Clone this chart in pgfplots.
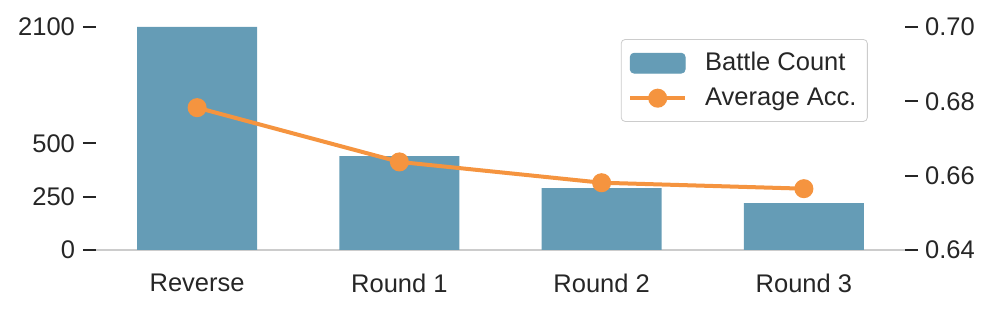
\documentclass[border=0pt]{standalone}
\usepackage{pgfplots}
\pgfplotsset{compat=1.18}
\usepackage{fontspec}
\setmainfont{Liberation Sans}
\definecolor{barblue}{HTML}{659CB6}
\definecolor{accorange}{HTML}{F5943F}
\definecolor{spinegray}{HTML}{CCCCCC}
\definecolor{txt}{HTML}{262626}
\begin{document}
\begin{tikzpicture}
\pgfplotsset{
  every axis/.append style={
    width=404.5pt, height=111.5pt, scale only axis,
    xmin=-0.5, xmax=3.5,
    font=\fontsize{12.75}{15}\selectfont,
    tick label style={color=txt},
    /pgf/number format/assume math mode=true,
  },
}
% bars, left axis
\begin{axis}[
  ymin=0, ymax=2100,
  y coord trafo/.code={\pgfmathparse{(#1>500)*(500+(#1-500)*0.34125)+(#1<=500)*(#1)}},
  y coord inv trafo/.code={\pgfmathparse{(#1>500)*(500+(#1-500)/0.34125)+(#1<=500)*(#1)}},
  ytick={0,250,500,2100},
  yticklabels={0,250,500,2100},
  xtick={0,1,2,3},
  xticklabels={Reverse,Round 1,Round 2,Round 3},
  axis x line*=bottom,
  axis y line*=left,
  y axis line style={draw=none},
  x axis line style={draw=spinegray, line width=1.3pt, -},
  x tick style={draw=none},
  major tick length=6.5pt,
  y tick style={draw=txt, line width=1.1pt},
  ytick pos=left,
  tick align=outside,
  yticklabel style={xshift=-0.5pt},
  xticklabel style={yshift=-2pt},
]
\addplot[ybar, bar width=0.594, fill=barblue, draw=none] coordinates {
  (0,2100) (1,440) (2,290) (3,220)
};
\end{axis}
% line, right axis
\begin{axis}[
  ymin=0.64, ymax=0.70,
  ytick={0.64,0.66,0.68,0.70},
  yticklabel style={/pgf/number format/.cd, fixed, fixed zerofill, precision=2},
  axis y line*=right,
  axis x line=none,
  y axis line style={draw=none},
  major tick length=6.5pt,
  y tick style={draw=txt, line width=1.1pt},
  tick align=outside,
  legend style={at={(0.954,0.946)}, anchor=north east, draw=spinegray, rounded corners=2pt,
    fill=white, inner xsep=3.5pt, inner ysep=4.5pt, row sep=3pt,
    font=\fontsize{12.75}{15}\selectfont, text=txt},
  legend cell align=left,
]
\addlegendimage{legend image code/.code={\fill[barblue] (0pt,-5pt) rectangle (27.5pt,5pt);\path (34.5pt,0pt);}}
\addlegendentry{Battle Count}
\addplot[color=accorange, line width=2pt, mark=*, mark size=3.75pt,
  mark options={fill=accorange, draw=accorange},
  legend image code/.code={\draw[accorange, line width=2pt] (0pt,0pt) -- (27.5pt,0pt);\fill[accorange] (13.75pt,0pt) circle (3.75pt);\path (34.5pt,0pt);}]
 coordinates {
  (0,0.6783) (1,0.6637) (2,0.6581) (3,0.6565)
};
\addlegendentry{Average Acc.}
\end{axis}
\pgfresetboundingbox
\path[use as bounding box] (-48pt,-32pt) rectangle (449.5pt,125pt);
\end{tikzpicture}
\end{document}
